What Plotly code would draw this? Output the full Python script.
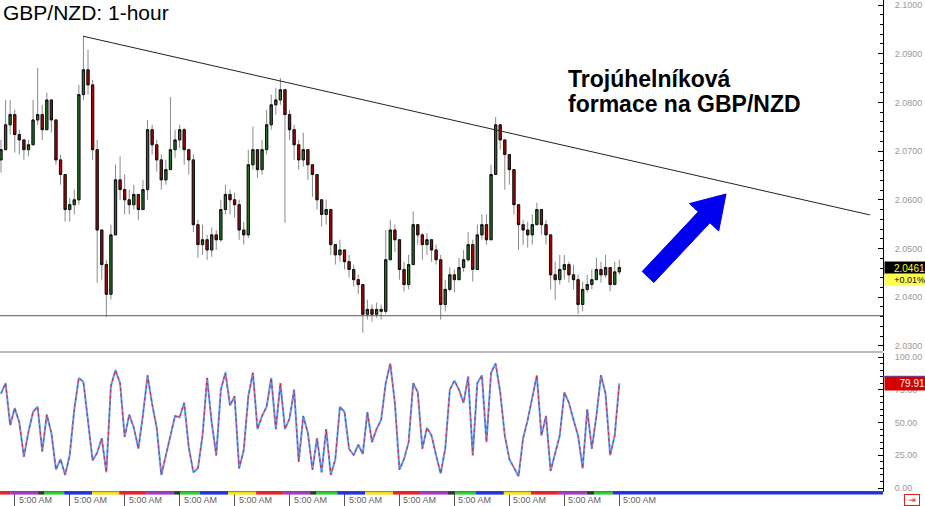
import plotly.graph_objects as go

# ---------------- data ----------------
CLOSE = [2.0703, 2.0754, 2.0775, 2.0734, 2.0723, 2.0703, 2.0713, 2.0764, 2.0775, 2.0744,
         2.0805, 2.0764, 2.0682, 2.0652, 2.0580, 2.0590, 2.0600, 2.0816, 2.0867, 2.0836,
         2.0703, 2.0538, 2.0467, 2.0406, 2.0528, 2.0641, 2.0621, 2.0600, 2.0590, 2.0611,
         2.0580, 2.0621, 2.0744, 2.0713, 2.0682, 2.0641, 2.0662, 2.0703, 2.0723, 2.0744,
         2.0703, 2.0682, 2.0549, 2.0508, 2.0518, 2.0497, 2.0528, 2.0518, 2.0580, 2.0611,
         2.0600, 2.0590, 2.0538, 2.0528, 2.0672, 2.0703, 2.0662, 2.0703, 2.0754, 2.0795,
         2.0805, 2.0826, 2.0775, 2.0744, 2.0713, 2.0682, 2.0703, 2.0672, 2.0652, 2.0600,
         2.0570, 2.0580, 2.0508, 2.0487, 2.0497, 2.0473, 2.0457, 2.0436, 2.0426, 2.0365,
         2.0375, 2.0365, 2.0375, 2.0371, 2.0477, 2.0538, 2.0518, 2.0457, 2.0426, 2.0467,
         2.0549, 2.0528, 2.0508, 2.0518, 2.0497, 2.0477, 2.0385, 2.0416, 2.0446, 2.0436,
         2.0461, 2.0477, 2.0508, 2.0457, 2.0528, 2.0549, 2.0518, 2.0652, 2.0754, 2.0723,
         2.0693, 2.0662, 2.0590, 2.0549, 2.0538, 2.0528, 2.0549, 2.0580, 2.0549, 2.0528,
         2.0446, 2.0436, 2.0457, 2.0467, 2.0446, 2.0436, 2.0385, 2.0416, 2.0426, 2.0436,
         2.0457, 2.0446, 2.0461, 2.0426, 2.0452, 2.0461]

HIGH = [2.0723, 2.0805, 2.0805, 2.0785, 2.0744, 2.0723, 2.0723, 2.0805, 2.0871, 2.0795,
        2.0820, 2.0775, 2.0764, 2.0693, 2.0652, 2.0604, 2.0621, 2.0836, 2.0936, 2.0908,
        2.0846, 2.0723, 2.0538, 2.0477, 2.0549, 2.0672, 2.0689, 2.0652, 2.0621, 2.0631,
        2.0611, 2.0641, 2.0764, 2.0754, 2.0723, 2.0693, 2.0682, 2.0811, 2.0744, 2.0754,
        2.0748, 2.0703, 2.0693, 2.0559, 2.0549, 2.0528, 2.0543, 2.0538, 2.0600, 2.0631,
        2.0621, 2.0615, 2.0600, 2.0555, 2.0703, 2.0750, 2.0703, 2.0723, 2.0785, 2.0816,
        2.0830, 2.0850, 2.0826, 2.0785, 2.0754, 2.0723, 2.0738, 2.0703, 2.0672, 2.0652,
        2.0600, 2.0600, 2.0580, 2.0508, 2.0518, 2.0497, 2.0487, 2.0467, 2.0446, 2.0426,
        2.0395, 2.0385, 2.0389, 2.0385, 2.0538, 2.0559, 2.0549, 2.0518, 2.0473, 2.0487,
        2.0576, 2.0549, 2.0532, 2.0532, 2.0518, 2.0508, 2.0487, 2.0436, 2.0461, 2.0457,
        2.0481, 2.0497, 2.0534, 2.0518, 2.0549, 2.0570, 2.0570, 2.0672, 2.0770, 2.0754,
        2.0723, 2.0693, 2.0662, 2.0590, 2.0559, 2.0555, 2.0570, 2.0594, 2.0580, 2.0559,
        2.0528, 2.0473, 2.0487, 2.0487, 2.0473, 2.0467, 2.0446, 2.0432, 2.0446, 2.0457,
        2.0481, 2.0473, 2.0487, 2.0461, 2.0473, 2.0477]

LOW = [2.0656, 2.0723, 2.0734, 2.0697, 2.0693, 2.0682, 2.0689, 2.0713, 2.0754, 2.0723,
       2.0744, 2.0738, 2.0672, 2.0631, 2.0555, 2.0555, 2.0570, 2.0590, 2.0805, 2.0816,
       2.0682, 2.0430, 2.0436, 2.0360, 2.0395, 2.0528, 2.0600, 2.0570, 2.0570, 2.0580,
       2.0559, 2.0580, 2.0600, 2.0693, 2.0658, 2.0621, 2.0631, 2.0662, 2.0686, 2.0707,
       2.0672, 2.0652, 2.0534, 2.0481, 2.0487, 2.0477, 2.0483, 2.0497, 2.0514, 2.0570,
       2.0570, 2.0563, 2.0518, 2.0508, 2.0522, 2.0662, 2.0645, 2.0652, 2.0693, 2.0744,
       2.0775, 2.0795, 2.0553, 2.0723, 2.0682, 2.0662, 2.0668, 2.0641, 2.0606, 2.0580,
       2.0545, 2.0549, 2.0487, 2.0467, 2.0473, 2.0457, 2.0440, 2.0422, 2.0406, 2.0327,
       2.0354, 2.0350, 2.0358, 2.0354, 2.0365, 2.0477, 2.0493, 2.0436, 2.0412, 2.0416,
       2.0467, 2.0508, 2.0477, 2.0487, 2.0473, 2.0467, 2.0354, 2.0371, 2.0412, 2.0410,
       2.0436, 2.0452, 2.0473, 2.0432, 2.0457, 2.0518, 2.0508, 2.0518, 2.0652, 2.0703,
       2.0621, 2.0631, 2.0570, 2.0497, 2.0508, 2.0502, 2.0508, 2.0549, 2.0528, 2.0508,
       2.0416, 2.0395, 2.0426, 2.0436, 2.0430, 2.0416, 2.0365, 2.0371, 2.0410, 2.0416,
       2.0436, 2.0430, 2.0440, 2.0412, 2.0426, 2.0446]

FIRST_OPEN = 2.0682

STOCH = [72, 80, 48, 61, 50, 24, 43, 58, 62, 28,
         56, 42, 14, 22, 10, 25, 60, 84, 81, 50,
         21, 27, 38, 12, 78, 90, 80, 39, 56, 46,
         30, 56, 86, 64, 46, 10, 25, 40, 55, 54,
         65, 31, 12, 15, 40, 84, 50, 25, 75, 88,
         63, 70, 15, 29, 70, 88, 45, 55, 62, 84,
         45, 80, 45, 53, 75, 20, 55, 42, 14, 38,
         12, 45, 10, 22, 62, 58, 30, 25, 33, 26,
         58, 35, 45, 52, 80, 95, 65, 14, 22, 35,
         80, 73, 30, 46, 40, 25, 11, 30, 75, 82,
         75, 65, 85, 25, 80, 86, 35, 88, 95, 73,
         40, 22, 15, 9, 38, 52, 69, 86, 40, 55,
         13, 27, 40, 73, 65, 52, 40, 15, 60, 30,
         55, 86, 72, 25, 40, 79.91]

TIME_TICK_IDX = [3, 15, 27, 39, 51, 63, 75, 87, 99, 111, 123, 135]
TIME_TICK_TEXT = ["5:00 AM"] * 12
PRICE_TICKS = [2.03, 2.04, 2.05, 2.06, 2.07, 2.08, 2.09, 2.10]
PRICE_TICK_TEXT = ["2.0300", "2.0400", "2.0500", "2.0600", "2.0700", "2.0800", "2.0900", "2.1000"]
STOCH_TICKS = [0, 25, 50, 75, 100]
STOCH_TICK_TEXT = ["0.00", "25.00", "50.00", "75.00", "100.00"]

TREND_X = [17.9, 189.7]
TREND_Y = [2.0936, 2.0569]
SUPPORT = 2.0362
LAST_PRICE = 2.0461
LAST_PRICE_TEXT = "2.0461"
LAST_CHANGE_TEXT = "+0.01%"
LAST_STOCH = 79.91
LAST_STOCH_TEXT = "79.91"

SESSION_EDGES = [-0.2, 2.0, 8.1, 9.4, 13.8, 19.9, 25.8, 31.7, 37.8, 39.1, 43.4, 49.6, 55.7,
                 61.6, 67.5, 68.8, 73.4, 79.5, 85.6, 91.5, 97.6, 99.1, 103.7, 109.8, 115.7,
                 121.8, 127.9, 129.5, 133.6, 192.6]
SESSION_CYCLE = ["#e8262a", "#a43cc4", "#333333", "#33cc33", "#2233dd", "#f2e21e"]

TITLE = "GBP/NZD: 1-hour"
NOTE_1 = "Trojúhelníková"
NOTE_2 = "formace na GBP/NZD"

# ---------------- layout geometry ----------------
W, H = 925, 506
ML, MR, MT, MB = 0, 42, 0, 15
PW, PH = W - ML - MR, H - MT - MB


def px(x):
    return x / PW


def py(y):
    return 1 - y / PH


n = len(CLOSE)
X = list(range(n))
OPEN = [FIRST_OPEN] + CLOSE[:-1]
HI = [max(h, o, c) for h, o, c in zip(HIGH, OPEN, CLOSE)]
LO = [min(l, o, c) for l, o, c in zip(LOW, OPEN, CLOSE)]
BODY_HI = [max(o, c) for o, c in zip(OPEN, CLOSE)]
BODY_LO = [min(o, c) for o, c in zip(OPEN, CLOSE)]

FONT = "Liberation Sans, Arial, sans-serif"

fig = go.Figure()
# wicks (grey)
fig.add_trace(go.Candlestick(
    x=X, open=OPEN, high=HI, low=LO, close=CLOSE, xaxis="x", yaxis="y",
    increasing=dict(line=dict(color="#8a8a8a", width=1), fillcolor="#8a8a8a"),
    decreasing=dict(line=dict(color="#8a8a8a", width=1), fillcolor="#8a8a8a"),
    whiskerwidth=0, hoverinfo="skip", showlegend=False))
# bodies (black outline, green / red fill)
fig.add_trace(go.Candlestick(
    x=X, open=OPEN, high=BODY_HI, low=BODY_LO, close=CLOSE, xaxis="x", yaxis="y",
    increasing=dict(line=dict(color="#111111", width=1), fillcolor="#237323"),
    decreasing=dict(line=dict(color="#111111", width=1), fillcolor="#b00000"),
    whiskerwidth=0, hoverinfo="skip", showlegend=False))
# stochastic
fig.add_trace(go.Scatter(x=X, y=STOCH, xaxis="x2", yaxis="y2", mode="lines",
                         line=dict(color="#5f98f5", width=2), showlegend=False, hoverinfo="skip"))
fig.add_trace(go.Scatter(x=X, y=STOCH, xaxis="x2", yaxis="y2", mode="lines",
                         line=dict(color="#e0202a", width=1, dash="3px,3px"), showlegend=False,
                         hoverinfo="skip"))

xr = [-1 / 4.58, (PW - 1) / 4.58]
p_top = 2.10103
p_bot = p_top - 351 / 4870.0
s_top = 100 + 4 / 1.31
s_bot = 0 - 3 / 1.31

shapes = []
# session colour band
for k in range(len(SESSION_EDGES) - 1):
    shapes.append(dict(type="rect", xref="x2", yref="paper", x0=SESSION_EDGES[k], x1=SESSION_EDGES[k + 1],
                       y0=py(494.6), y1=py(491.6), fillcolor=SESSION_CYCLE[k % 6], line=dict(width=0),
                       layer="above"))
# pane separator
shapes.append(dict(type="line", xref="paper", yref="paper", x0=0, x1=1, y0=py(352), y1=py(352),
                   line=dict(color="#777777", width=1)))
# support line
shapes.append(dict(type="line", xref="paper", yref="y", x0=0, x1=1, y0=SUPPORT, y1=SUPPORT,
                   line=dict(color="#555555", width=1)))
# trend line
shapes.append(dict(type="line", xref="x", yref="y", x0=TREND_X[0], x1=TREND_X[1], y0=TREND_Y[0], y1=TREND_Y[1],
                   line=dict(color="#222222", width=1)))
# blue arrow
arrow_pts = [(653.8, 282.5), (709.9, 222.8), (718.7, 231.0), (726.0, 194.0), (689.5, 203.6),
             (698.3, 211.8), (642.2, 271.5)]
path = "M " + " L ".join(f"{px(a):.5f},{py(b):.5f}" for a, b in arrow_pts) + " Z"
shapes.append(dict(type="path", xref="paper", yref="paper", path=path, fillcolor="#0000ee",
                   line=dict(color="#0000ee", width=1)))
# blue level line of stochastic on the right scale
shapes.append(dict(type="line", xref="paper", yref="y2", x0=1, x1=(PW + MR) / PW,
                   y0=LAST_STOCH + 5.2, y1=LAST_STOCH + 5.2, line=dict(color="#3a6ff0", width=1.5)))

ann = []
ann.append(dict(text=TITLE, xref="paper", yref="paper", x=px(1), y=py(12.5), xanchor="left", yanchor="middle",
                showarrow=False, font=dict(family=FONT, size=21, color="#000000")))
ann.append(dict(text="<b>" + NOTE_1 + "</b>", xref="paper", yref="paper", x=px(566), y=py(79),
                xanchor="left", yanchor="middle", showarrow=False,
                font=dict(family=FONT, size=23, color="#000000")))
ann.append(dict(text="<b>" + NOTE_2 + "</b>", xref="paper", yref="paper", x=px(566), y=py(104),
                xanchor="left", yanchor="middle", showarrow=False,
                font=dict(family=FONT, size=23, color="#000000")))
for idx, t in zip(TIME_TICK_IDX, TIME_TICK_TEXT):
    ann.append(dict(text=t, xref="x2", yref="paper", x=idx, xshift=2, y=py(500), xanchor="left",
                    yanchor="middle", showarrow=False, font=dict(family=FONT, size=9, color="#606060")))
ann.append(dict(text=LAST_PRICE_TEXT, xref="paper", yref="y", x=1, xshift=1, y=LAST_PRICE, xanchor="left",
                yanchor="middle", showarrow=False, bgcolor="#000000", width=40, height=12, borderpad=0,
                align="right", font=dict(family=FONT, size=10, color="#ffff00")))
ann.append(dict(text=LAST_CHANGE_TEXT, xref="paper", yref="y", x=1, xshift=1, y=LAST_PRICE, yshift=-12,
                xanchor="left", yanchor="middle", showarrow=False, bgcolor="#ffff50", width=40, height=11,
                borderpad=0, align="right", font=dict(family=FONT, size=9, color="#000000")))
ann.append(dict(text=LAST_STOCH_TEXT, xref="paper", yref="y2", x=1, xshift=1, y=LAST_STOCH, xanchor="left",
                yanchor="middle", showarrow=False, bgcolor="#d40000", width=40, height=13, borderpad=0,
                align="right", font=dict(family=FONT, size=10, color="#ffffff")))
ann.append(dict(text="⇥", xref="paper", yref="paper", x=px(912), y=py(499.5), xanchor="center",
                yanchor="middle", showarrow=False, bordercolor="#e02020", borderwidth=1, borderpad=0,
                width=14, height=10, font=dict(family="DejaVu Sans", size=9, color="#e02020")))

axis_common = dict(showgrid=False, zeroline=False)
fig.update_layout(
    width=W, height=H, margin=dict(l=ML, r=MR, t=MT, b=MB),
    paper_bgcolor="#ffffff", plot_bgcolor="#ffffff", showlegend=False,
    font=dict(family=FONT),
    xaxis=dict(domain=[0, 1], range=xr, anchor="y", showticklabels=False, ticks="", showline=False,
               rangeslider=dict(visible=False), **axis_common),
    yaxis=dict(domain=[py(351), 1], range=[p_bot, p_top], anchor="x", side="right",
               tickmode="array", tickvals=PRICE_TICKS, ticktext=PRICE_TICK_TEXT,
               ticks="inside", ticklen=5, tickcolor="#000000", showline=True, linecolor="#000000",
               linewidth=1, tickfont=dict(size=9, color="#9a9a9a"), ticklabelstandoff=9,
               minor=dict(tickmode="linear", tick0=2.03, dtick=0.002, ticks="inside", ticklen=3,
                          tickcolor="#000000", showgrid=False),
               **axis_common),
    xaxis2=dict(domain=[0, 1], range=xr, anchor="y2", showticklabels=False, tickmode="array",
                tickvals=TIME_TICK_IDX, ticks="outside", ticklen=14, tickcolor="#555555",
                showline=True, linecolor="#555555", linewidth=1, **axis_common),
    yaxis2=dict(domain=[0, py(353)], range=[s_bot, s_top], anchor="x2", side="right",
                tickmode="array", tickvals=STOCH_TICKS, ticktext=STOCH_TICK_TEXT,
                ticks="inside", ticklen=5, tickcolor="#000000", showline=True, linecolor="#000000",
                linewidth=1, tickfont=dict(size=9, color="#9a9a9a"), ticklabelstandoff=9,
                minor=dict(tickmode="linear", tick0=0, dtick=5, ticks="inside", ticklen=3,
                           tickcolor="#000000", showgrid=False),
                **axis_common),
    shapes=shapes, annotations=ann,
)

fig.write_html("out.html", config={"displayModeBar": False},
               post_script="document.body.style.margin='0';document.body.style.padding='0';"
                           "document.body.style.overflow='hidden';")
